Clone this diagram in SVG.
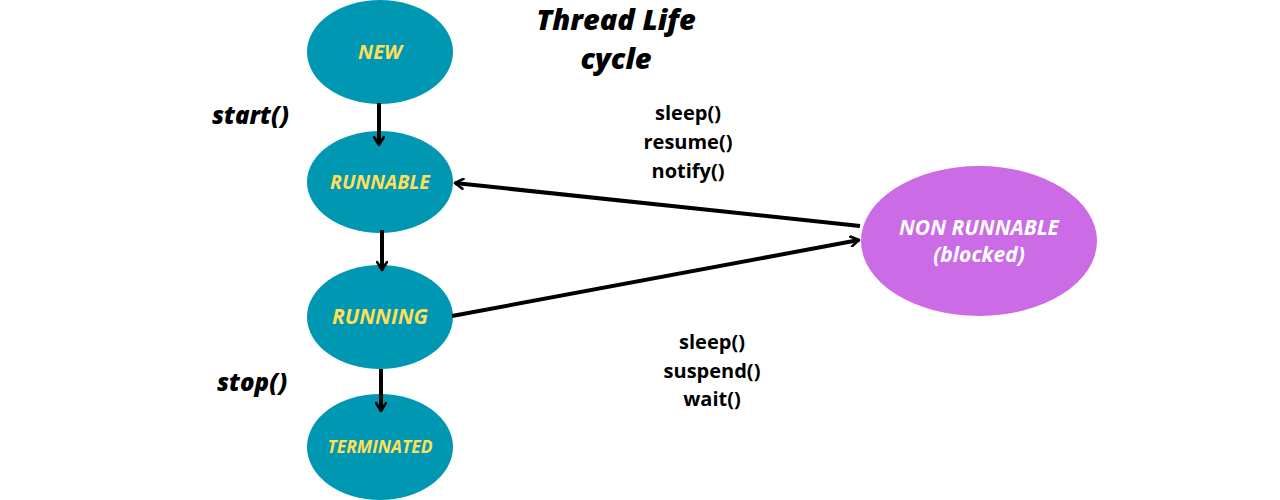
<svg xmlns="http://www.w3.org/2000/svg" width="1280" height="500" viewBox="0 0 1280 500">
<defs>
<marker id="arr" viewBox="0 0 12 12" refX="10" refY="6" markerWidth="12" markerHeight="12" markerUnits="userSpaceOnUse" orient="auto">
<path d="M2,1 L10,6 L2,11" fill="none" stroke="#000" stroke-width="2.6" stroke-linecap="round" stroke-linejoin="round"/>
</marker>
<style>
.teal{fill:#0097B2}
.purple{fill:#CB6CE6}
.nl{font-family:"Open Sans","Liberation Sans",sans-serif;font-weight:bold;font-style:italic;fill:#FFDE59;text-anchor:middle}
.wl{font-family:"Open Sans","Liberation Sans",sans-serif;font-weight:bold;font-style:italic;fill:#FFFFFF;text-anchor:middle;font-size:21px}
.title{font-family:"Open Sans","Liberation Sans",sans-serif;font-weight:800;font-style:italic;fill:#000;text-anchor:middle;font-size:29px}
.lab{font-family:"Open Sans","Liberation Sans",sans-serif;font-weight:800;font-style:italic;fill:#000;font-size:24px}
.meth{font-family:"Open Sans","Liberation Sans",sans-serif;font-weight:bold;fill:#000;text-anchor:middle;font-size:20px}
.edge{stroke:#000;stroke-width:4;fill:none;marker-end:url(#arr)}
</style>
</defs>
<rect width="1280" height="500" fill="#fff"/>
<g id="title">
<text class="title" x="616" y="30">Thread Life</text>
<text class="title" x="616" y="69">cycle</text>
</g>
<g id="node-new">
<ellipse class="teal" cx="380" cy="52" rx="73" ry="52"/>
<text class="nl" x="380" y="59" font-size="20">NEW</text>
</g>
<g id="node-runnable">
<ellipse class="teal" cx="380" cy="182" rx="73" ry="51"/>
<text class="nl" x="380" y="189" font-size="19.5">RUNNABLE</text>
</g>
<g id="node-running">
<ellipse class="teal" cx="380" cy="317" rx="73" ry="52"/>
<text class="nl" x="380" y="324" font-size="21">RUNNING</text>
</g>
<g id="node-terminated">
<ellipse class="teal" cx="380" cy="447" rx="73" ry="53"/>
<text class="nl" x="380" y="453" font-size="17.5">TERMINATED</text>
</g>
<g id="node-nonrunnable">
<ellipse class="purple" cx="979" cy="241" rx="118" ry="75"/>
<text class="wl" x="979" y="235">NON RUNNABLE</text>
<text class="wl" x="979" y="262">(blocked)</text>
</g>
<g id="connectors">
<line class="edge" x1="379" y1="103" x2="379" y2="145"/>
<line class="edge" x1="382" y1="230" x2="382" y2="270"/>
<line class="edge" x1="381" y1="369" x2="381" y2="411"/>
<line class="edge" x1="860" y1="226" x2="455" y2="183"/>
<line class="edge" x1="452" y1="316" x2="859" y2="240"/>
<text class="lab" x="212" y="124">start()</text>
<text class="lab" x="217" y="391">stop()</text>
<text class="meth" x="688" y="120">sleep()</text>
<text class="meth" x="688" y="149">resume()</text>
<text class="meth" x="688" y="178">notify()</text>
<text class="meth" x="712" y="349">sleep()</text>
<text class="meth" x="712" y="378">suspend()</text>
<text class="meth" x="712" y="406">wait()</text>
</g>
</svg>
